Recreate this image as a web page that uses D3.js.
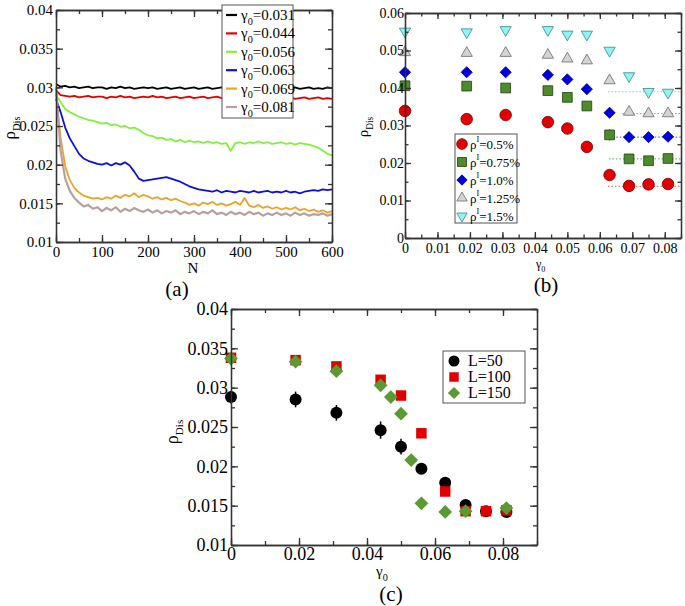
<!DOCTYPE html>
<html><head><meta charset="utf-8">
<script src="https://cdn.jsdelivr.net/npm/d3@7"></script>
<style>
body{margin:0;background:#fff}
svg text{font-family:"Liberation Serif","Times New Roman",Times,"DejaVu Serif",serif;fill:#000}
.ax path,.ax line{stroke:#333;stroke-width:1.3}
</style>
</head><body><script>
const SERIF = 'Liberation Serif, Times New Roman, serif';

// ---------- panel (a): rho_Dis vs N ----------
const nSteps = d3.range(0, 601, 10);
const gammaLabelsA = ['0.031', '0.044', '0.056', '0.063', '0.069', '0.081'];
const colorsA = ['#000000', '#e00000', '#84f03c', '#0a10e0', '#eda22a', '#b8a0a0'];
const lineBlack = [0.0304,0.0301,0.0302,0.0300,0.0301,0.0299,0.0300,0.0301,0.0299,0.0300,
  0.0300,0.0298,0.0300,0.0299,0.0301,0.0299,0.0300,0.0298,0.0299,0.0300,
  0.0299,0.0300,0.0298,0.0299,0.0300,0.0298,0.0299,0.0300,0.0298,0.0299,
  0.0300,0.0298,0.0299,0.0300,0.0298,0.0299,0.0300,0.0299,0.0298,0.0300,
  0.0299,0.0298,0.0300,0.0299,0.0298,0.0300,0.0299,0.0298,0.0299,0.0300,
  0.0298,0.0299,0.0300,0.0298,0.0299,0.0300,0.0298,0.0299,0.0298,0.0300,0.0299];
const lineRed = [0.0296,0.0290,0.0289,0.0288,0.0289,0.0287,0.0288,0.0289,0.0287,0.0288,
  0.0288,0.0286,0.0288,0.0287,0.0289,0.0287,0.0288,0.0286,0.0287,0.0288,
  0.0287,0.0289,0.0287,0.0288,0.0286,0.0287,0.0288,0.0286,0.0287,0.0288,
  0.0286,0.0287,0.0288,0.0286,0.0287,0.0288,0.0286,0.0287,0.0286,0.0288,
  0.0286,0.0287,0.0285,0.0287,0.0286,0.0288,0.0286,0.0287,0.0285,0.0287,
  0.0286,0.0287,0.0285,0.0286,0.0287,0.0285,0.0286,0.0287,0.0285,0.0286,0.0285];
const lineGreen = [0.0290,0.0281,0.0272,0.0268,0.0265,0.0262,0.0260,0.0258,0.0257,0.0255,
  0.0253,0.0254,0.0251,0.0252,0.0249,0.0250,0.0247,0.0248,0.0245,0.0241,
  0.0238,0.0237,0.0234,0.0235,0.0232,0.0233,0.0230,0.0232,0.0229,0.0231,
  0.0229,0.0230,0.0228,0.0230,0.0228,0.0229,0.0227,0.0228,0.0218,0.0228,
  0.0229,0.0227,0.0229,0.0228,0.0230,0.0228,0.0229,0.0227,0.0228,0.0229,
  0.0227,0.0228,0.0226,0.0228,0.0227,0.0226,0.0224,0.0222,0.0218,0.0214,0.0212];
const lineBlue = [0.0285,0.0268,0.0248,0.0234,0.0224,0.0214,0.0208,0.0205,0.0203,0.0201,
  0.0200,0.0202,0.0199,0.0202,0.0200,0.0203,0.0199,0.0191,0.0182,0.0179,
  0.0180,0.0181,0.0182,0.0183,0.0184,0.0182,0.0180,0.0178,0.0175,0.0172,
  0.0170,0.0168,0.0167,0.0166,0.0165,0.0167,0.0164,0.0166,0.0165,0.0164,
  0.0166,0.0165,0.0164,0.0166,0.0164,0.0165,0.0166,0.0164,0.0165,0.0164,
  0.0166,0.0164,0.0165,0.0163,0.0165,0.0166,0.0167,0.0166,0.0168,0.0167,0.0168];
const lineOrange = [0.0292,0.0235,0.0198,0.0180,0.0170,0.0164,0.0160,0.0158,0.0156,0.0157,
  0.0155,0.0158,0.0156,0.0160,0.0157,0.0161,0.0159,0.0163,0.0158,0.0161,
  0.0159,0.0156,0.0158,0.0155,0.0157,0.0154,0.0156,0.0153,0.0151,0.0148,
  0.0150,0.0147,0.0151,0.0149,0.0152,0.0148,0.0150,0.0147,0.0149,0.0152,
  0.0148,0.0157,0.0147,0.0145,0.0148,0.0144,0.0146,0.0143,0.0145,0.0142,
  0.0144,0.0142,0.0145,0.0141,0.0143,0.0140,0.0142,0.0139,0.0141,0.0138,0.0140];
const lineGray = [0.0300,0.0218,0.0182,0.0166,0.0157,0.0151,0.0146,0.0148,0.0143,0.0145,
  0.0140,0.0144,0.0141,0.0145,0.0139,0.0143,0.0140,0.0144,0.0141,0.0139,
  0.0142,0.0138,0.0141,0.0137,0.0140,0.0138,0.0141,0.0136,0.0139,0.0137,
  0.0140,0.0136,0.0139,0.0137,0.0141,0.0136,0.0138,0.0135,0.0139,0.0136,
  0.0138,0.0135,0.0139,0.0136,0.0138,0.0134,0.0137,0.0135,0.0138,0.0135,
  0.0137,0.0134,0.0138,0.0135,0.0137,0.0134,0.0136,0.0135,0.0137,0.0134,0.0136];
const seriesA = [lineBlack, lineRed, lineGreen, lineBlue, lineOrange, lineGray];
const xTicksA = [0, 100, 200, 300, 400, 500, 600];
const yTicksA = [0.01, 0.015, 0.02, 0.025, 0.03, 0.035, 0.04];
const yLabelsA = ['0.01', '0.015', '0.02', '0.025', '0.03', '0.035', '0.04'];

// ---------- panel (b): rho_Dis vs gamma0 for several rho^I ----------
const gammaB = [0, 0.019, 0.031, 0.044, 0.050, 0.056, 0.063, 0.069, 0.075, 0.081];
const rhoI05 = [0.0339,0.0317,0.0328,0.0309,0.0292,0.0243,0.0168,0.0139,0.0143,0.0144];
const rhoI075 = [0.0406,0.0405,0.0400,0.0393,0.0375,0.0352,0.0275,0.0211,0.0206,0.0212];
const rhoI10 = [0.0442,0.0442,0.0442,0.0435,0.0423,0.0397,0.0334,0.0269,0.0269,0.0270];
const rhoI125 = [0.0495,0.0493,0.0493,0.0488,0.0478,0.0473,0.0420,0.0336,0.0332,0.0332];
const rhoI15 = [0.0551,0.0549,0.0555,0.0555,0.0543,0.0543,0.0500,0.0432,0.0390,0.0388];
const errI075 = [0, 0, 0, 0, 0, 0, 0.0015, 0, 0, 0];
const legendB = ['=0.5%', '=0.75%', '=1.0%', '=1.25%', '=1.5%'];
const plateauB = [0.0138, 0.0211, 0.0269, 0.0332, 0.0390];
const plateauStartB = [0.0625, 0.0628, 0.064, 0.067, 0.0625];
const xTicksB = [0, 0.01, 0.02, 0.03, 0.04, 0.05, 0.06, 0.07, 0.08];
const xLabelsB = ['0', '0.01', '0.02', '0.03', '0.04', '0.05', '0.06', '0.07', '0.08'];
const yTicksB = [0, 0.01, 0.02, 0.03, 0.04, 0.05, 0.06];
const yLabelsB = ['0', '0.01', '0.02', '0.03', '0.04', '0.05', '0.06'];

// ---------- panel (c): rho_Dis vs gamma0 for system sizes ----------
const gammaC = [0, 0.019, 0.031, 0.044, 0.050, 0.056, 0.063, 0.069, 0.075, 0.081];
const sizeL50 = [0.0288,0.0285,0.0268,0.0246,0.0225,0.0197,0.0179,0.0151,0.0143,0.0142];
const errL50 = [0.0008,0.001,0.001,0.0011,0.001,0.0005,0.0005,0.0004,0.0003,0.0003];
const sizeL100 = [0.0338,0.0335,0.0327,0.0310,0.0290,0.0242,0.0168,0.0143,0.0143,0.0144];
const gammaC150 = [0, 0.019, 0.031, 0.044, 0.047, 0.050, 0.053, 0.056, 0.063, 0.069, 0.081];
const sizeL150 = [0.0337,0.0333,0.0321,0.0303,0.0288,0.0267,0.0208,0.0153,0.0142,0.0143,0.0147];
const legendC = ['L=50', 'L=100', 'L=150'];
const xTicksC = [0, 0.02, 0.04, 0.06, 0.08];
const xLabelsC = ['0', '0.02', '0.04', '0.06', '0.08'];

const svg = d3.select('body').append('svg').attr('width', 685).attr('height', 606);

function frame(g, x, y, o) {
  const W = x.range(), H = y.range();
  const mk = (axis, tr) => g.append('g').attr('class', 'ax').attr('transform', tr).call(axis.tickSizeOuter(0));
  mk(d3.axisBottom(x).tickValues(o.xMinor).tickSize(-o.ms).tickFormat(''), `translate(0,${H[0]})`);
  mk(d3.axisTop(x).tickValues(o.xMinor).tickSize(-o.ms).tickFormat(''), `translate(0,${H[1]})`);
  mk(d3.axisLeft(y).tickValues(o.yMinor).tickSize(-o.ms).tickFormat(''), `translate(${W[0]},0)`);
  mk(d3.axisRight(y).tickValues(o.yMinor).tickSize(-o.ms).tickFormat(''), `translate(${W[1]},0)`);
  mk(d3.axisTop(x).tickValues(o.xTicks).tickSize(-o.Ms).tickFormat(''), `translate(0,${H[1]})`);
  mk(d3.axisRight(y).tickValues(o.yTicks).tickSize(-o.Ms).tickFormat(''), `translate(${W[1]},0)`);
  mk(d3.axisBottom(x).tickValues(o.xTicks).tickSize(-o.Ms).tickPadding(o.xPad)
      .tickFormat((d, i) => o.xLabels[i]), `translate(0,${H[0]})`)
    .attr('font-family', SERIF).attr('font-size', o.fs);
  mk(d3.axisLeft(y).tickValues(o.yTicks).tickSize(-o.Ms).tickPadding(o.yPad)
      .tickFormat((d, i) => o.yLabels[i]), `translate(${W[0]},0)`)
    .attr('font-family', SERIF).attr('font-size', o.fs);
}

function rhoLabel(g, cx, cy, fs) {
  const t = g.append('text').attr('transform', `translate(${cx},${cy}) rotate(-90)`)
    .attr('text-anchor', 'middle').attr('font-size', fs);
  t.append('tspan').text('ρ');
  t.append('tspan').attr('font-size', fs * 0.62).attr('dy', fs * 0.3).text('Dis');
}
function gammaText(sel, fs, rest) {
  sel.append('tspan').text('γ');
  sel.append('tspan').attr('font-size', fs * 0.68).attr('dy', fs * 0.3).text('0');
  if (rest) sel.append('tspan').attr('dy', -fs * 0.3).text(rest);
}

// ===== panel (a) =====
{
  const g = svg.append('g');
  const x = d3.scaleLinear().domain([0, 600]).range([56, 332]);
  const y = d3.scaleLinear().domain([0.01, 0.04]).range([242, 10]);
  const line = d3.line().x((d, i) => x(nSteps[i])).y(d => y(d));
  seriesA.forEach((s, k) => {
    g.append('path').attr('d', line(s)).attr('fill', 'none')
      .attr('stroke', colorsA[k]).attr('stroke-width', k === 5 ? 2.2 : 1.8).attr('stroke-linejoin', 'round');
  });
  frame(g, x, y, {xTicks: xTicksA, xLabels: xTicksA.map(String), xMinor: d3.range(0, 601, 50),
    yTicks: yTicksA, yLabels: yLabelsA, yMinor: d3.range(0.01, 0.0401, 0.0025),
    Ms: 7, ms: 4, fs: 15, xPad: 4, yPad: 3});
  const lg = g.append('g');
  lg.append('rect').attr('x', 222).attr('y', 5).attr('width', 71).attr('height', 113)
    .attr('fill', '#fff').attr('stroke', '#555').attr('stroke-width', 1);
  gammaLabelsA.forEach((lab, k) => {
    const yy = 15 + k * 18.4;
    lg.append('line').attr('x1', 226).attr('x2', 237).attr('y1', yy).attr('y2', yy)
      .attr('stroke', colorsA[k]).attr('stroke-width', 2.2);
    gammaText(lg.append('text').attr('x', 241).attr('y', yy + 5).attr('font-size', 15), 15, '=' + lab);
  });
  rhoLabel(g, 15, 128, 17);
  g.append('text').attr('x', 193).attr('y', 273).attr('text-anchor', 'middle').attr('font-size', 15).text('N');
  g.append('text').attr('x', 177).attr('y', 296).attr('text-anchor', 'middle').attr('font-size', 21).text('(a)');
}

// ===== panel (b) =====
{
  const g = svg.append('g');
  const x = d3.scaleLinear().domain([0, 0.085]).range([405, 681]);
  const y = d3.scaleLinear().domain([0, 0.06]).range([238, 13]);
  const seriesB = [rhoI05, rhoI075, rhoI10, rhoI125, rhoI15];
  const sym = [
    {type: d3.symbolCircle, size: 105, rot: 0, fill: '#e30000', stroke: '#7a0000'},
    {type: d3.symbolSquare, size: 95, rot: 0, fill: '#4c8c2c', stroke: '#25400f'},
    {type: d3.symbolSquare, size: 62, rot: 45, fill: '#0000e8', stroke: '#000070'},
    {type: d3.symbolTriangle, size: 55, rot: 0, fill: '#d4d4d4', stroke: '#6a6a6a'},
    {type: d3.symbolTriangle, size: 55, rot: 180, fill: '#90f4f4', stroke: '#3a8888'}
  ];
  const plateauColors = ['#e05050', '#60a040', '#4050e0', '#9a9a9a', '#70d8d8'];
  plateauB.forEach((v, k) => {
    g.append('line').attr('x1', x(plateauStartB[k])).attr('x2', x(0.085))
      .attr('y1', y(v)).attr('y2', y(v)).attr('stroke', plateauColors[k])
      .attr('stroke-width', 1).attr('stroke-dasharray', '1.5,2');
  });
  g.selectAll('.eb').data(gammaB.map((d, i) => [d, rhoI075[i], errI075[i]]).filter(d => d[2] > 0))
    .enter().append('line').attr('x1', d => x(d[0])).attr('x2', d => x(d[0]))
    .attr('y1', d => y(d[1] - d[2])).attr('y2', d => y(d[1] + d[2])).attr('stroke', '#555').attr('stroke-width', 1.2);
  seriesB.forEach((s, k) => {
    const p = d3.symbol().type(sym[k].type).size(sym[k].size);
    g.selectAll('.m' + k).data(s).enter().append('path').attr('d', p)
      .attr('transform', (d, i) => `translate(${x(gammaB[i])},${y(d)}) rotate(${sym[k].rot})`)
      .attr('fill', sym[k].fill).attr('stroke', sym[k].stroke).attr('stroke-width', 0.8);
  });
  frame(g, x, y, {xTicks: xTicksB, xLabels: xLabelsB, xMinor: d3.range(0, 0.0851, 0.005),
    yTicks: yTicksB, yLabels: yLabelsB, yMinor: d3.range(0, 0.0601, 0.005),
    Ms: 6, ms: 3.5, fs: 14, xPad: 5, yPad: 1});
  const lg = g.append('g');
  lg.append('rect').attr('x', 455).attr('y', 134).attr('width', 62).attr('height', 89)
    .attr('fill', '#fff').attr('stroke', '#555').attr('stroke-width', 1);
  legendB.forEach((lab, k) => {
    const yy = 144 + k * 18;
    const p = d3.symbol().type(sym[k].type).size(sym[k].size * 0.85);
    lg.append('path').attr('d', p).attr('transform', `translate(462,${yy}) rotate(${sym[k].rot})`)
      .attr('fill', sym[k].fill).attr('stroke', sym[k].stroke).attr('stroke-width', 0.8);
    const t = lg.append('text').attr('x', 470).attr('y', yy + 5).attr('font-size', 13);
    t.append('tspan').text('ρ');
    t.append('tspan').attr('font-size', 8).attr('dy', -7).text('I');
    t.append('tspan').attr('dy', 7).text(lab);
  });
  rhoLabel(g, 368, 127, 15);
  gammaText(g.append('text').attr('x', 536).attr('y', 268).attr('font-size', 12), 12);
  g.append('text').attr('x', 546).attr('y', 292).attr('text-anchor', 'middle').attr('font-size', 21).text('(b)');
}

// ===== panel (c) =====
{
  const g = svg.append('g');
  const x = d3.scaleLinear().domain([0, 0.09]).range([231, 537]);
  const y = d3.scaleLinear().domain([0.01, 0.04]).range([545, 309]);
  g.selectAll('.ebc').data(gammaC.map((d, i) => [d, sizeL50[i], errL50[i]]))
    .enter().append('line').attr('x1', d => x(d[0])).attr('x2', d => x(d[0]))
    .attr('y1', d => y(d[1] - d[2])).attr('y2', d => y(d[1] + d[2])).attr('stroke', '#000').attr('stroke-width', 1.5);
  g.selectAll('.c50').data(sizeL50).enter().append('circle')
    .attr('cx', (d, i) => x(gammaC[i])).attr('cy', d => y(d)).attr('r', 6).attr('fill', '#000');
  const sq = d3.symbol().type(d3.symbolSquare).size(110);
  g.selectAll('.c100').data(sizeL100).enter().append('path').attr('d', sq)
    .attr('transform', (d, i) => `translate(${x(gammaC[i])},${y(d)})`).attr('fill', '#e00000');
  const dm = d3.symbol().type(d3.symbolSquare).size(95);
  g.selectAll('.c150').data(sizeL150).enter().append('path').attr('d', dm)
    .attr('transform', (d, i) => `translate(${x(gammaC150[i])},${y(d)}) rotate(45)`).attr('fill', '#5a9a30');
  frame(g, x, y, {xTicks: xTicksC, xLabels: xLabelsC, xMinor: d3.range(0, 0.0901, 0.01),
    yTicks: yTicksA, yLabels: yLabelsA, yMinor: d3.range(0.01, 0.0401, 0.0025),
    Ms: 7, ms: 4, fs: 18, xPad: 2, yPad: 3});
  const lg = g.append('g');
  lg.append('rect').attr('x', 443).attr('y', 351).attr('width', 82).attr('height', 52)
    .attr('fill', '#fff').attr('stroke', '#555').attr('stroke-width', 1);
  const marks = [
    (s, yy) => s.append('circle').attr('cx', 454).attr('cy', yy).attr('r', 5.5).attr('fill', '#000'),
    (s, yy) => s.append('path').attr('d', d3.symbol().type(d3.symbolSquare).size(90)).attr('transform', `translate(454,${yy})`).attr('fill', '#e00000'),
    (s, yy) => s.append('path').attr('d', d3.symbol().type(d3.symbolSquare).size(75)).attr('transform', `translate(454,${yy}) rotate(45)`).attr('fill', '#5a9a30')
  ];
  legendC.forEach((lab, k) => {
    const yy = 361 + k * 16;
    marks[k](lg, yy);
    lg.append('text').attr('x', 468).attr('y', yy + 5).attr('font-size', 16).text(lab);
  });
  rhoLabel(g, 178, 432, 18);
  gammaText(g.append('text').attr('x', 376).attr('y', 576).attr('font-size', 15), 15);
  g.append('text').attr('x', 391).attr('y', 601).attr('text-anchor', 'middle').attr('font-size', 21).text('(c)');
}
</script></body></html>
